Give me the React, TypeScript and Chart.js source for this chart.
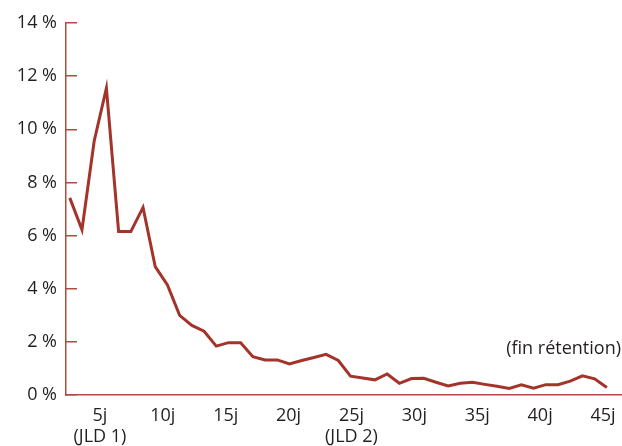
import React, { useEffect, useRef } from "react";
import { Chart, registerables } from "chart.js";

Chart.register(...registerables);

// Point index (one point per day step as drawn)
const POINT_INDEX = [
  1, 2, 3, 4, 5, 6, 7, 8, 9, 10, 11, 12, 13, 14, 15, 16, 17, 18, 19, 20, 21, 22,
  23, 24, 25, 26, 27, 28, 29, 30, 31, 32, 33, 34, 35, 36, 37, 38, 39, 40, 41, 42,
  43, 44, 45,
];
// Share (%) per day
const SHARE_VALUES = [
  7.42, 6.22, 9.56, 11.55, 6.15, 6.15, 7.06, 4.83, 4.14, 3.0, 2.62, 2.4, 1.84,
  1.97, 1.97, 1.44, 1.32, 1.32, 1.17, 1.3, 1.41, 1.53, 1.3, 0.71, 0.64, 0.57,
  0.79, 0.44, 0.62, 0.63, 0.48, 0.34, 0.44, 0.48, 0.4, 0.33, 0.25, 0.38, 0.26,
  0.39, 0.39, 0.52, 0.72, 0.61, 0.28,
];
// X axis tick days and labels
const TICK_DAYS = [5, 10, 15, 20, 25, 30, 35, 40, 45];
const TICK_LABELS: (string | string[])[] = [
  ["5j", "(JLD 1)"],
  "10j",
  "15j",
  "20j",
  ["25j", "(JLD 2)"],
  "30j",
  "35j",
  "40j",
  "45j",
];
// Y axis ticks
const Y_TICKS = [0, 2, 4, 6, 8, 10, 12, 14];
const ANNOTATION_TEXT = "(fin rétention)";
const ANNOTATION_VALUE = 1.75;

const LINE_COLOR = "#a3342a";
const AXIS_COLOR = "#b24a3f";
const TEXT_COLOR = "#231f20";
const FONT_FAMILY = "'Open Sans', sans-serif";

export default function App() {
  const ref = useRef<HTMLCanvasElement | null>(null);

  useEffect(() => {
    if (!ref.current) return;
    const annotationPlugin = {
      id: "annot",
      afterDraw(chart: any) {
        const { ctx, chartArea, scales } = chart;
        const y = scales.y.getPixelForValue(ANNOTATION_VALUE);
        ctx.save();
        ctx.font = `18px ${FONT_FAMILY}`;
        ctx.fillStyle = TEXT_COLOR;
        ctx.textAlign = "right";
        ctx.textBaseline = "middle";
        ctx.fillText(ANNOTATION_TEXT, chartArea.right, y);
        ctx.restore();
      },
    };

    const chart = new Chart(ref.current, {
      type: "line",
      data: {
        datasets: [
          {
            data: POINT_INDEX.map((d, i) => ({ x: d, y: SHARE_VALUES[i] })),
            borderColor: LINE_COLOR,
            borderWidth: 3,
            pointRadius: 0,
            tension: 0,
            fill: false,
            xAxisID: "x",
            yAxisID: "y",
          },
        ],
      },
      options: {
        animation: false,
        responsive: false,
        maintainAspectRatio: false,
        layout: { padding: { top: 23, right: 1, left: 0, bottom: 0 } },
        plugins: { legend: { display: false }, tooltip: { enabled: false } },
        scales: {
          x: {
            type: "linear",
            display: false,
            min: 0.69,
            max: 46.16,
          },
          xt: {
            type: "linear",
            position: "bottom",
            min: 2.3,
            max: 46.43,
            afterBuildTicks: (scale: any) => {
              scale.ticks = TICK_DAYS.map((v) => ({ value: v }));
            },
            afterFit: (scale: any) => {
              scale.height = 51;
              scale.paddingLeft = 0;
              scale.paddingRight = 0;
            },
            grid: { display: false, drawTicks: false },
            border: { display: true, color: AXIS_COLOR, width: 1.5 },
            ticks: {
              autoSkip: false,
              maxRotation: 0,
              padding: 11,
              color: TEXT_COLOR,
              font: { family: FONT_FAMILY, size: 18, lineHeight: 1.15 },
              callback: (v: any) => {
                const i = TICK_DAYS.indexOf(Number(v));
                return i >= 0 ? TICK_LABELS[i] : "";
              },
            },
          },
          y: {
            type: "linear",
            position: "left",
            min: 0,
            max: 14,
            afterBuildTicks: (scale: any) => {
              scale.ticks = Y_TICKS.map((v) => ({ value: v }));
            },
            afterFit: (scale: any) => {
              scale.width = 66;
              scale.paddingTop = 0;
              scale.paddingBottom = 0;
            },
            grid: {
              drawOnChartArea: false,
              drawTicks: true,
              tickLength: -11,
              color: AXIS_COLOR,
              lineWidth: 1.5,
            },
            border: { display: true, color: AXIS_COLOR, width: 1.5 },
            ticks: {
              padding: 20,
              color: TEXT_COLOR,
              font: { family: FONT_FAMILY, size: 18 },
              callback: (v: any) => `${v} %`,
            },
          },
        },
      },
      plugins: [annotationPlugin],
    });
    return () => chart.destroy();
  }, []);

  return (
    <div style={{ position: "fixed", left: 0, top: 0, width: 622, height: 446, background: "#fff" }}>
      <canvas ref={ref} width={622} height={446} style={{ width: 622, height: 446 }} />
    </div>
  );
}
